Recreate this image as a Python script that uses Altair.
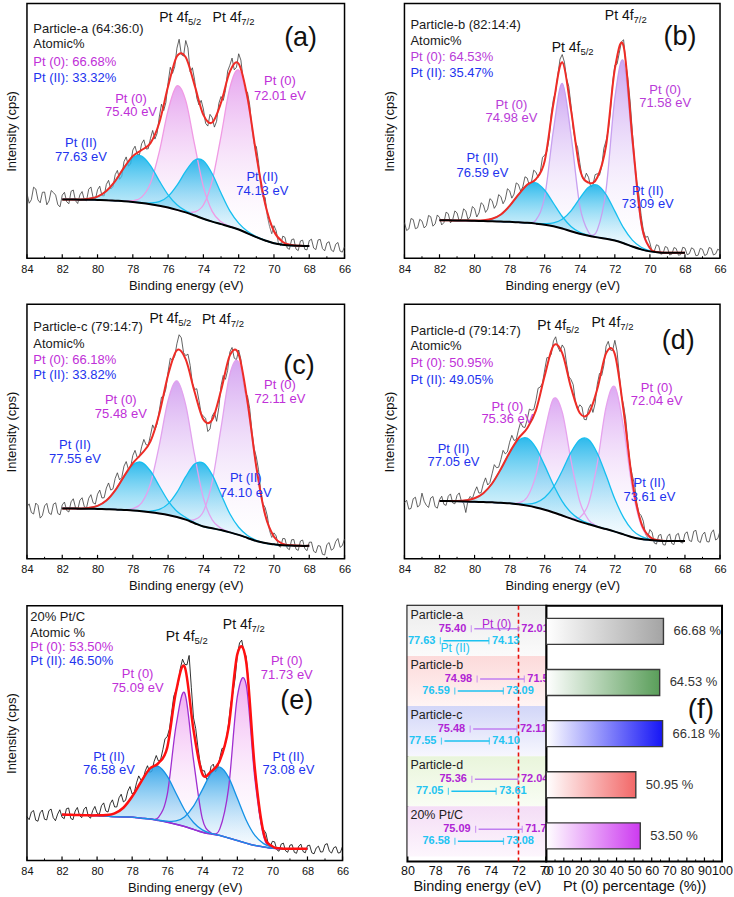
import altair as alt
import numpy as np
import pandas as pd

FONT = "Liberation Sans"

# ---------------- energy grids (eV) ----------------
E_raw = np.round(np.linspace(84.0, 66.0, 145), 3)  # raw spectrum, 0.125 eV step
E_fit = np.round(np.linspace(82.0, 68.0, 29), 2)   # fitted curves, 0.5 eV step
xticks_major = [84, 82, 80, 78, 76, 74, 72, 70, 68, 66]
xticks_minor = [83, 81, 79, 77, 75, 73, 71, 69, 67]

# raw counts are stored as two read-off lists: on the 0.25 eV points and in between them

# ---------------- panel (a) ----------------
raw_a = [25.5, 23.0, 27.2, 21.8, 26.0, 22.5, 25.8, 21.0,
         24.8, 22.2, 26.3, 22.6, 24.9, 23.0, 27.1, 23.8,
         26.9, 24.6, 29.0, 27.2, 32.8, 31.0, 37.9, 36.2,
         42.5, 40.8, 45.0, 42.9, 47.0, 46.8, 55.5, 58.0,
         69.0, 72.6, 82.5, 80.0, 85.5, 73.2, 70.1, 60.2,
         58.6, 51.9, 55.2, 53.8, 63.5, 65.9, 75.8, 74.0,
         80.3, 70.4, 65.2, 50.8, 43.9, 28.0, 23.9, 12.5,
         12.8, 6.0, 8.7, 4.0, 7.3, 3.6, 6.8, 3.5,
         6.9, 4.0, 7.2, 3.8, 6.0, 3.2, 5.5, 2.8, 4.5]
rawm_a = [21.6, 27.9, 22.9, 25.9, 21.0, 26.6, 24.8, 20.2,
          25.9, 21.4, 26.8, 21.5, 26.2, 22.6, 28.0, 23.0,
          28.3, 24.5, 30.6, 28.1, 34.5, 32.2, 39.8, 37.0,
          44.0, 40.6, 46.5, 43.0, 50.2, 49.0, 60.5, 61.2,
          75.0, 75.3, 86.0, 79.4, 82.6, 74.8, 63.0, 62.0,
          53.0, 56.5, 51.5, 60.8, 62.0, 73.5, 78.6, 75.0,
          77.8, 65.4, 60.2, 45.0, 37.8, 24.0, 16.4, 9.6,
          10.8, 5.0, 8.2, 3.5, 7.6, 3.0, 7.1, 3.3,
          7.5, 3.4, 7.4, 2.9, 6.5, 2.6, 6.2, 2.4]
bg_a = [23.1, 23.1, 23.0, 23.0, 22.9, 22.8, 22.6, 22.4, 22.1, 21.7, 21.2, 20.6, 19.9, 19.0, 18.0,
        16.8, 15.5, 14.4, 13.4, 12.4, 11.3, 9.8, 8.3, 7.0, 5.9, 5.3, 5.0, 4.9, 4.8]
pt0_a1 = [0] * 7 + [0.1, 0.5, 2.3, 8.3, 21.2, 38.2, 48.7, 43.9, 27.9, 12.6, 4.0, 0.9, 0.2] + [0] * 9
pt0_a2 = [0] * 14 + [0.2, 1.4, 5.4, 16.1, 34.6, 54.5, 62.6, 52.5, 32.1, 14.4, 4.7, 1.1, 0.2] + [0] * 2
pt2_a1 = [0, 0, 0.1, 0.4, 1.3, 3.6, 7.7, 13.1, 17.5, 18.4, 15.2, 9.8, 5.0, 2.0, 0.6, 0.2] + [0] * 13
pt2_a2 = [0] * 9 + [0.1, 0.5, 1.6, 4.4, 9.6, 16.2, 21.7, 22.8, 18.8, 12.2, 6.2, 2.5, 0.8, 0.2] + [0] * 6

# ---------------- panel (b) ----------------
raw_b = [14.0, 11.5, 15.2, 12.0, 14.6, 12.8, 16.3, 13.5,
         16.0, 14.0, 17.5, 15.1, 17.8, 15.6, 18.6, 16.4,
         19.5, 17.8, 21.0, 19.3, 22.6, 21.0, 24.2, 23.0,
         26.5, 25.2, 29.0, 28.0, 31.5, 30.2, 33.8, 34.0,
         40.5, 47.0, 62.5, 72.0, 80.0, 70.5, 60.0, 45.8,
         37.5, 30.6, 31.8, 28.6, 33.2, 36.0, 46.1, 58.0,
         75.8, 80.5, 85.8, 70.2, 49.5, 30.0, 16.8, 8.2,
         6.0, 2.8, 4.9, 1.9, 4.2, 1.6, 3.8, 1.4,
         4.0, 1.8, 3.6, 1.2, 3.5, 1.5, 3.9, 1.7, 2.8]
rawm_b = [10.9, 15.6, 11.6, 15.3, 11.9, 16.8, 12.6, 17.0,
          13.1, 18.1, 13.9, 18.6, 14.6, 19.4, 15.2, 20.3,
          16.2, 21.8, 18.0, 23.4, 19.6, 25.0, 21.4, 27.3,
          23.6, 29.6, 26.4, 32.0, 28.6, 34.6, 31.8, 39.6,
          42.0, 56.8, 65.5, 78.2, 77.0, 67.4, 51.0, 43.6,
          32.0, 33.4, 28.0, 32.8, 32.6, 43.2, 50.3, 69.0,
          76.2, 85.0, 76.6, 61.4, 38.2, 24.8, 11.0, 8.6,
          2.6, 5.3, 1.6, 4.6, 1.3, 4.2, 1.2, 4.3,
          1.4, 4.1, 1.0, 3.9, 1.1, 4.2, 1.3, 3.6]
bg_b = [14.9, 14.9, 14.8, 14.8, 14.7, 14.6, 14.5, 14.4, 14.3, 14.1, 13.9, 13.6, 13.2, 12.6, 11.7,
        10.6, 9.6, 8.8, 8.2, 7.7, 7.0, 5.9, 4.6, 3.5, 2.7, 2.3, 2.2, 2.2, 2.2]
pt0_b1 = [0] * 10 + [0.1, 1.4, 11.1, 37.8, 57.0, 37.8, 11.1, 1.4, 0.1] + [0] * 10
pt0_b2 = [0] * 17 + [0.2, 2.9, 19.2, 55.8, 71.4, 40.2, 10.0, 1.1, 0.1] + [0] * 3
pt2_b1 = [0, 0, 0, 0, 0.1, 0.3, 1.0, 2.8, 6.3, 10.9, 14.9, 16.0, 13.5, 9.0, 4.7, 1.9, 0.6, 0.2] + [0] * 11
pt2_b2 = [0] * 11 + [0.1, 0.4, 1.3, 3.6, 8.0, 13.9, 19.1, 20.5, 17.3, 11.5, 6.0, 2.5, 0.8, 0.2] + [0] * 4

# ---------------- panel (c) ----------------
raw_c = [20.5, 18.2, 21.9, 16.0, 20.8, 18.0, 21.5, 17.8,
         21.2, 19.0, 22.4, 20.2, 23.0, 20.5, 23.8, 22.0,
         25.4, 23.9, 27.8, 27.0, 31.6, 31.0, 36.4, 35.2,
         40.6, 39.8, 44.0, 44.8, 48.5, 50.6, 58.2, 63.8,
         73.5, 78.0, 84.5, 86.8, 79.8, 76.0, 66.5, 62.2,
         56.0, 50.0, 56.1, 54.0, 68.0, 70.5, 81.2, 78.8,
         82.0, 70.2, 64.0, 50.1, 40.0, 26.5, 20.2, 11.0,
         10.2, 5.1, 8.0, 4.2, 7.5, 3.8, 7.0, 4.0,
         6.5, 3.0, 5.2, 1.8, 5.6, 3.4, 6.8, 4.5, 7.8]
rawm_c = [21.6, 17.6, 21.0, 17.0, 21.8, 17.4, 22.0, 17.3,
          22.3, 18.4, 23.6, 19.2, 24.0, 20.0, 25.2, 21.5,
          27.0, 24.0, 29.8, 27.5, 33.8, 32.0, 38.2, 36.0,
          42.6, 40.0, 46.9, 44.6, 52.6, 53.0, 63.5, 66.8,
          78.8, 79.6, 88.0, 81.0, 80.4, 69.0, 66.8, 57.0,
          55.2, 51.0, 57.6, 59.4, 72.0, 74.0, 83.0, 78.2,
          78.3, 65.0, 59.0, 43.4, 35.0, 21.6, 16.8, 8.4,
          9.0, 4.6, 7.9, 3.6, 7.6, 3.3, 7.4, 3.2,
          6.6, 2.4, 5.0, 1.5, 6.4, 4.0, 8.0, 5.2]
bg_c = [19.8, 19.8, 19.7, 19.7, 19.6, 19.5, 19.4, 19.2, 19.0, 18.7, 18.3, 17.8, 17.2, 16.4, 15.4,
        14.0, 12.7, 12.0, 11.3, 10.4, 9.4, 8.2, 7.0, 6.2, 5.7, 5.3, 5.2, 5.1, 5.1]
pt0_c1 = [0] * 7 + [0.1, 0.7, 3.3, 11.2, 26.8, 45.0, 53.5, 45.0, 26.8, 11.2, 3.3, 0.7, 0.1] + [0] * 9
pt0_c2 = [0] * 14 + [0.2, 1.4, 5.9, 18.3, 40.1, 62.1, 67.9, 52.5, 28.8, 11.1, 3.0, 0.6, 0.1] + [0] * 2
pt2_c1 = [0, 0, 0.1, 0.3, 1.2, 3.4, 7.5, 13.1, 17.9, 19.2, 16.2, 10.8, 5.6, 2.3, 0.8, 0.2] + [0] * 13
pt2_c2 = [0] * 9 + [0.1, 0.4, 1.6, 4.4, 9.7, 16.9, 23.2, 24.9, 21.0, 14.0, 7.3, 3.0, 1.0, 0.3] + [0] * 6

# ---------------- panel (d) ----------------
raw_d = [22.0, 19.5, 23.6, 20.3, 25.8, 21.0, 23.9, 20.5,
         23.2, 21.4, 24.6, 22.0, 24.9, 22.6, 18.2, 24.5,
         26.3, 25.8, 29.5, 29.0, 33.4, 35.8, 39.0, 41.2,
         45.8, 46.5, 50.5, 51.8, 54.6, 58.4, 62.2, 67.5,
         74.2, 79.0, 85.6, 83.2, 84.0, 76.5, 70.4, 61.8,
         60.5, 54.8, 58.9, 57.5, 68.6, 72.0, 83.5, 82.0,
         85.8, 72.5, 60.2, 45.3, 32.6, 22.0, 17.0, 9.6,
         11.5, 6.2, 9.2, 5.6, 8.8, 6.0, 9.4, 6.5,
         9.9, 7.2, 10.8, 7.0, 9.5, 6.8, 10.2, 7.4, 10.9]
rawm_d = [23.0, 19.8, 24.2, 21.2, 22.6, 20.2, 24.5, 19.9,
          24.6, 21.0, 25.5, 21.6, 25.9, 22.0, 23.0, 23.6,
          28.3, 26.0, 31.8, 30.0, 37.0, 36.0, 42.6, 42.0,
          48.5, 46.8, 53.6, 51.6, 58.8, 58.6, 67.0, 69.0,
          79.0, 80.4, 87.2, 81.4, 82.6, 71.6, 68.4, 58.8,
          59.6, 54.6, 60.6, 61.0, 72.8, 76.0, 85.4, 81.8,
          81.6, 64.2, 54.6, 37.0, 29.2, 18.0, 14.8, 8.4,
          10.4, 5.8, 9.6, 5.4, 9.8, 5.6, 10.0, 6.2,
          10.6, 6.8, 11.2, 6.4, 10.5, 6.6, 11.4, 8.0]
bg_d = [22.7, 22.7, 22.6, 22.5, 22.4, 22.3, 22.2, 22.0, 21.8, 21.4, 20.9, 20.2, 19.3, 18.2, 17.0,
        15.8, 14.6, 13.6, 12.6, 11.7, 10.7, 9.6, 8.5, 7.8, 7.4, 7.1, 7.0, 7.0, 7.0]
pt0_d1 = [0] * 9 + [0.6, 3.3, 12.8, 30.5, 44.7, 40.6, 22.9, 8.0, 1.7, 0.2] + [0] * 10
pt0_d2 = [0] * 15 + [0.2, 1.6, 8.1, 24.9, 47.9, 56.9, 41.9, 19.0, 5.4, 0.9, 0.1] + [0] * 3
pt2_d1 = [0, 0, 0.1, 0.5, 1.4, 3.5, 7.4, 13.3, 20.0, 25.1, 26.5, 23.4, 17.3, 10.8, 5.6, 2.4, 0.9, 0.3, 0.1] + [0] * 10
pt2_d2 = [0] * 9 + [0.2, 0.6, 1.9, 4.8, 10.0, 17.6, 26.0, 32.2, 33.3, 28.9, 21.1, 12.8, 6.6, 2.8, 1.0, 0.3, 0.1] + [0] * 3

# ---------------- panel (e) ----------------
raw_e = [17.2, 19.0, 15.8, 18.7, 16.2, 19.5, 16.8, 18.2,
         17.0, 20.3, 16.5, 19.4, 17.6, 20.1, 17.3, 19.6,
         18.6, 21.5, 19.4, 22.3, 21.0, 24.6, 23.0, 27.2,
         26.1, 30.5, 31.6, 35.2, 34.6, 38.8, 39.0, 43.5,
         48.6, 58.0, 66.8, 75.5, 77.0, 80.5, 56.0, 44.5,
         35.2, 31.8, 36.9, 34.8, 40.2, 44.0, 53.8, 66.0,
         80.6, 86.5, 80.2, 58.0, 35.5, 18.8, 12.0, 6.9,
         7.5, 4.2, 6.4, 3.8, 6.0, 3.2, 5.6, 3.5,
         5.8, 3.0, 4.9, 3.3, 6.2, 3.6, 5.0, 2.9, 5.5]
rawm_e = [16.0, 19.6, 15.4, 19.8, 15.9, 20.2, 15.6, 19.9,
          16.4, 20.6, 16.0, 20.8, 16.8, 21.0, 16.6, 21.2,
          18.0, 22.6, 19.0, 23.8, 21.0, 26.0, 23.6, 29.0,
          26.8, 33.2, 31.8, 37.2, 35.0, 41.2, 39.6, 47.8,
          51.6, 64.5, 69.4, 79.0, 76.8, 68.0, 51.8, 38.4,
          35.2, 32.6, 37.8, 36.2, 44.0, 47.4, 61.5, 71.6,
          85.4, 82.0, 70.8, 45.0, 28.6, 14.0, 10.8, 5.4,
          7.3, 3.6, 6.8, 3.2, 6.2, 2.8, 6.4, 3.0,
          6.0, 2.6, 5.6, 3.4, 6.6, 2.9, 5.4, 3.1]
bg_e = [18.0, 17.9, 17.8, 17.7, 17.6, 17.4, 17.2, 17.1, 17.0, 16.6, 16.3, 15.7, 15.0, 14.2, 13.3,
        12.2, 11.1, 10.4, 9.8, 8.8, 7.8, 6.8, 5.9, 5.3, 4.8, 4.6, 4.6, 4.6, 4.6]
pt0_e1 = [0] * 10 + [0.1, 1.2, 10.8, 38.5, 52.4, 27.2, 5.4, 0.4] + [0] * 11
pt0_e2 = [0] * 17 + [0.1, 2.6, 19.6, 56.6, 62.3, 26.2, 4.2, 0.3] + [0] * 4
pt2_e1 = [0, 0, 0, 0, 0.1, 0.4, 1.3, 3.6, 8.1, 14.2, 19.6, 21.2, 18.1, 12.2, 6.4, 2.7, 0.9, 0.2, 0] + [0] * 10
pt2_e2 = [0] * 11 + [0.1, 0.4, 1.3, 3.9, 9.1, 16.6, 23.8, 26.8, 23.8, 16.6, 9.1, 3.9, 1.3, 0.4, 0.1] + [0] * 3

# ---------------- text annotations of the spectra ----------------
peak_kind = [0, 0, 0, 0, 2, 2, 2, 2]
hdr_a = ["Particle-a (64:36:0)", "Atomic%", "Pt (0): 66.68%", "Pt (II): 33.32%"]
hdr_b = ["Particle-b (82:14:4)", "Atomic%", "Pt (0): 64.53%", "Pt (II): 35.47%"]
hdr_c = ["Particle-c (79:14:7)", "Atomic%", "Pt (0): 66.18%", "Pt (II): 33.82%"]
hdr_d = ["Particle-d (79:14:7)", "Atomic%", "Pt (0): 50.95%", "Pt (II): 49.05%"]
hdr_e = ["20% Pt/C", "Atomic %", "Pt (0): 53.50%", "Pt (II): 46.50%"]

lab_a = ["Pt (0)", "75.40 eV", "Pt (0)", "72.01 eV", "Pt (II)", "77.63 eV", "Pt (II)", "74.13 eV"]
lab_b = ["Pt (0)", "74.98 eV", "Pt (0)", "71.58 eV", "Pt (II)", "76.59 eV", "Pt (II)", "73.09 eV"]
lab_c = ["Pt (0)", "75.48 eV", "Pt (0)", "72.11 eV", "Pt (II)", "77.55 eV", "Pt (II)", "74.10 eV"]
lab_d = ["Pt (0)", "75.36 eV", "Pt (0)", "72.04 eV", "Pt (II)", "77.05 eV", "Pt (II)", "73.61 eV"]
lab_e = ["Pt (0)", "75.09 eV", "Pt (0)", "71.73 eV", "Pt (II)", "76.58 eV", "Pt (II)", "73.08 eV"]

# annotation anchor positions in data units (eV, intensity %)
pos_a = dict(hE=83.64, hI=[90.2, 84.0, 77.2, 70.9],
             lE=[78.1, 78.1, 69.66, 69.66, 80.94, 80.94, 70.66, 70.66],
             lI=[62.6, 57.4, 69.6, 63.9, 45.2, 39.9, 31.9, 26.3],
             oE=[74.87, 71.85], oI=[94.4, 94.4], let=("(a)", 68.49, 86.3))
pos_b = dict(hE=83.66, hI=[91.5, 85.3, 79.1, 72.9],
             lE=[77.9, 77.9, 69.13, 69.13, 79.55, 79.55, 70.12, 70.12],
             lI=[60.2, 55.0, 66.1, 60.9, 39.4, 33.5, 26.6, 21.4],
             oE=[73.96, 70.93], oI=[82.4, 95.2], let=("(b)", 68.28, 87.0))
pos_c = dict(hE=83.64, hI=[90.9, 84.4, 78.2, 72.2],
             lE=[78.68, 78.68, 69.66, 69.66, 81.28, 81.28, 71.6, 71.6],
             lI=[62.2, 57.0, 68.1, 62.8, 44.6, 39.4, 31.6, 25.7],
             oE=[75.43, 72.45], oI=[94.1, 93.9], let=("(c)", 68.58, 75.9))
pos_d = dict(hE=83.66, hI=[89.6, 83.4, 76.9, 70.4],
             lE=[78.13, 78.13, 69.61, 69.61, 81.2, 81.2, 70.03, 70.03],
             lI=[59.8, 55.0, 67.0, 61.8, 43.3, 38.1, 29.6, 24.4],
             oE=[74.78, 71.69], oI=[91.3, 92.8], let=("(d)", 68.38, 85.7))
pos_e = dict(hE=83.81, hI=[95.4, 89.5, 83.7, 78.2],
             lE=[77.69, 77.69, 69.18, 69.18, 79.32, 79.32, 69.09, 69.09],
             lI=[73.2, 67.7, 78.4, 72.9, 40.8, 35.6, 40.8, 35.6],
             oE=[74.44, 71.19], oI=[87.6, 92.5], let=("(e)", 68.61, 62.7))
orb_main = ["Pt 4f", "Pt 4f"]
orb_sub = ["5/2", "7/2"]

# ---------------- panel (f) ----------------
names = ["Particle-a", "Particle-b", "Particle-c", "Particle-d", "20% Pt/C"]
pt0_hi = [75.40, 74.98, 75.48, 75.36, 75.09]
pt0_lo = [72.01, 71.58, 72.11, 72.04, 71.73]
pt2_hi = [77.63, 76.59, 77.55, 77.05, 76.58]
pt2_lo = [74.13, 73.09, 74.10, 73.61, 73.08]
pt0_pct = [66.68, 64.53, 66.18, 50.95, 53.50]
ref_line_eV = [72.0]
f_ticks_major = list(range(0, 101, 10))
f_ticks_minor = list(range(5, 100, 10))


def vgrad(top, bottom):
    return alt.LinearGradient(gradient="linear",
                              stops=[alt.GradientStop(color=top, offset=0),
                                     alt.GradientStop(color=bottom, offset=1)],
                              x1=0, x2=0, y1=0, y2=1)


def hgrad(left, right):
    return alt.LinearGradient(gradient="linear",
                              stops=[alt.GradientStop(color=left, offset=0),
                                     alt.GradientStop(color=right, offset=1)],
                              x1=0, x2=1, y1=0, y2=0)


def merge_raw(on, mid):
    out = []
    for i in range(len(mid)):
        out += [on[i], mid[i]]
    out.append(on[-1])
    return out


def spectrum(raw, rawm, bg, pt0s, pt2s, hdr, labs, pos, sty, W, H):
    xs = alt.Scale(domain=[66, 84], reverse=True, nice=False, zero=False)
    ys = alt.Scale(domain=[0, 100], nice=False, zero=False)
    xax = alt.Axis(values=xticks_major, format="d", ticks=False, domain=False, grid=False,
                   labelFlush=False, labelFontSize=11, labelPadding=5,
                   title="Binding energy (eV)", titleFontSize=13, titlePadding=5)
    yax = alt.Axis(labels=False, ticks=False, domain=False, grid=False,
                   title="Intensity (cps)", titleFontSize=13, titlePadding=8)

    def X(f):
        return alt.X(f"{f}:Q", scale=xs, axis=xax)

    def Y(f):
        return alt.Y(f"{f}:Q", scale=ys, axis=yax)

    rawdf = pd.DataFrame({"E": E_raw, "I": merge_raw(raw, rawm)})
    fit = pd.DataFrame({"E": E_fit, "bg": np.array(bg, float)})
    env = np.array(bg, float)
    for k, h in enumerate(pt0s):
        fit[f"p0_{k}"] = fit["bg"] + np.array(h, float)
        env = env + np.array(h, float)
    for k, h in enumerate(pt2s):
        fit[f"p2_{k}"] = fit["bg"] + np.array(h, float)
        env = env + np.array(h, float)
    fit["env"] = env
    base = alt.Chart(fit)

    L = [alt.Chart(rawdf).mark_line(color=sty["raw"], strokeWidth=0.8).encode(x=X("E"), y=Y("I"))]
    for k in range(len(pt0s)):
        L.append(base.mark_area(fill=vgrad(*sty["p0fill"]), interpolate="cardinal")
                 .encode(x=X("E"), y=Y(f"p0_{k}"), y2=alt.Y2("bg")))
    for k in range(len(pt2s)):
        L.append(base.mark_area(fill=vgrad(*sty["p2fill"]), interpolate="cardinal")
                 .encode(x=X("E"), y=Y(f"p2_{k}"), y2=alt.Y2("bg")))
    bgline = base.mark_line(color=sty["bg"], strokeWidth=sty["bgw"], interpolate="cardinal").encode(
        x=X("E"), y=Y("bg"))
    if sty["bg_under"]:
        L.append(bgline)
    for k in range(len(pt0s)):
        L.append(base.mark_line(color=sty["p0line"], strokeWidth=1.3, interpolate="cardinal")
                 .encode(x=X("E"), y=Y(f"p0_{k}")))
    for k in range(len(pt2s)):
        L.append(base.mark_line(color=sty["p2line"], strokeWidth=1.3, interpolate="cardinal")
                 .encode(x=X("E"), y=Y(f"p2_{k}")))
    L.append(base.mark_line(color=sty["env"], strokeWidth=sty["envw"], interpolate="cardinal")
             .encode(x=X("E"), y=Y("env")))
    if not sty["bg_under"]:
        L.append(bgline)

    # inward ticks on the bottom axis
    L.append(alt.Chart(pd.DataFrame({"E": xticks_major})).mark_rule(color="black", strokeWidth=1.2)
             .encode(x=X("E"), y=alt.value(H), y2=alt.value(H - 4)))
    L.append(alt.Chart(pd.DataFrame({"E": xticks_minor})).mark_rule(color="black", strokeWidth=1.0)
             .encode(x=X("E"), y=alt.value(H), y2=alt.value(H - 2)))

    hdf = pd.DataFrame({"E": [pos["hE"]] * 4, "I": pos["hI"], "label": hdr,
                        "c": ["#1a1a1a", "#1a1a1a", sty["t0"], sty["t2"]]})
    L.append(alt.Chart(hdf).mark_text(align="left", baseline="middle", fontSize=13)
             .encode(x=X("E"), y=Y("I"), text="label:N", color=alt.Color("c:N", scale=None)))
    ldf = pd.DataFrame({"E": pos["lE"], "I": pos["lI"], "label": labs,
                        "c": [sty["t0"] if k == 0 else sty["t2"] for k in peak_kind]})
    L.append(alt.Chart(ldf).mark_text(align="center", baseline="middle", fontSize=13)
             .encode(x=X("E"), y=Y("I"), text="label:N", color=alt.Color("c:N", scale=None)))
    odf = pd.DataFrame({"E": pos["oE"], "I": pos["oI"], "m": orb_main, "s": orb_sub})
    L.append(alt.Chart(odf).mark_text(align="right", baseline="middle", fontSize=14, color="#111")
             .encode(x=X("E"), y=Y("I"), text="m:N"))
    L.append(alt.Chart(odf).mark_text(align="left", baseline="middle", fontSize=9.5, dy=4, color="#111")
             .encode(x=X("E"), y=Y("I"), text="s:N"))
    let = pos["let"]
    L.append(alt.Chart(pd.DataFrame({"E": [let[1]], "I": [let[2]], "t": [let[0]]}))
             .mark_text(align="center", baseline="middle", fontSize=27, color="#111")
             .encode(x=X("E"), y=Y("I"), text="t:N"))
    return alt.layer(*L).properties(width=W, height=H)


sty_common = dict(raw="#3c3c3c", p2fill=("rgba(22,178,234,0.9)", "rgba(225,245,253,0.25)"),
                  p2line="#16bff0", env="#ee2c26", envw=2.0, bg="#000000", bgw=2.0,
                  bg_under=False, t0="#c030d8", t2="#2233ee")
sty_a = dict(sty_common, p0fill=("rgba(226,150,236,0.85)", "rgba(255,255,255,0.1)"), p0line="#f09ae4")
sty_b = dict(sty_common, p0fill=("rgba(196,150,240,0.85)", "rgba(255,255,255,0.1)"), p0line="#c8a0f0",
             t0="#b83cd8")
sty_c = dict(sty_common, p0fill=("rgba(206,150,238,0.85)", "rgba(255,255,255,0.1)"), p0line="#e2a2ee")
sty_d = dict(sty_common, p0fill=("rgba(214,154,240,0.85)", "rgba(255,255,255,0.1)"), p0line="#e6a2ee")
sty_e = dict(sty_common, raw="#000000", p0fill=("rgba(238,160,240,0.85)", "rgba(255,255,255,0.1)"),
             p0line="#a02ed0", p2fill=("rgba(38,158,232,0.9)", "rgba(225,242,252,0.25)"),
             p2line="#1592e6", env="#ff1010", envw=2.5, bg="#6035d8", bgw=1.5, bg_under=True)

pa = spectrum(raw_a, rawm_a, bg_a, [pt0_a1, pt0_a2], [pt2_a1, pt2_a2], hdr_a, lab_a, pos_a, sty_a, 318, 255)
pb = spectrum(raw_b, rawm_b, bg_b, [pt0_b1, pt0_b2], [pt2_b1, pt2_b2], hdr_b, lab_b, pos_b, sty_b, 316, 255)
pc = spectrum(raw_c, rawm_c, bg_c, [pt0_c1, pt0_c2], [pt2_c1, pt2_c2], hdr_c, lab_c, pos_c, sty_c, 318, 255)
pd_ = spectrum(raw_d, rawm_d, bg_d, [pt0_d1, pt0_d2], [pt2_d1, pt2_d2], hdr_d, lab_d, pos_d, sty_d, 316, 255)
pe = spectrum(raw_e, rawm_e, bg_e, [pt0_e1, pt0_e2], [pt2_e1, pt2_e2], hdr_e, lab_e, pos_e, sty_e, 316, 255)

# ---------------- panel (f): left part ----------------
WFL, WFR, HF = 139, 176, 256
dff = pd.DataFrame({"name": names, "pt0_hi": pt0_hi, "pt0_lo": pt0_lo,
                    "pt2_hi": pt2_hi, "pt2_lo": pt2_lo, "pct": pt0_pct})
dff["pct_label"] = [f"{v:.2f} %" for v in pt0_pct]

xsf = alt.Scale(domain=[70, 80], reverse=True, nice=False, zero=False)
xaxf = alt.Axis(values=[80, 78, 76, 74, 72, 70], format="d", ticks=False, domain=False, grid=False,
                labelFlush=False, labelFontSize=12.5, labelPadding=3,
                title="Binding energy (eV)", titleFontSize=14.5, titlePadding=3)
ysf = alt.Scale(domain=names, paddingInner=0, paddingOuter=0.05, align=0)
YF = alt.Y("name:N", scale=ysf, axis=None, sort=names)


def XF(f):
    return alt.X(f"{f}:Q", scale=xsf, axis=xaxf)


band_cols = [("#ececec", "#fbfbfb"), ("#fcdada", "#fff4f4"), ("#d2d6f8", "#f7f7fe"),
             ("#e9f5db", "#f9fdf4"), ("#f4ddf6", "#fdf6fd")]
C0L, C0T, C2L, C2T = "#c07ef0", "#b024d4", "#1cc2f0", "#22c4f2"
FL = []
for n, (c1, c2) in zip(names, band_cols):
    FL.append(alt.Chart(dff).transform_filter(alt.datum.name == n)
              .mark_rect(fill=vgrad(c1, c2)).encode(y=YF, x=alt.value(0), x2=alt.value(WFL)))
FL.append(alt.Chart(pd.DataFrame({"E": ref_line_eV})).mark_rule(color="#e8100c", strokeWidth=1.6,
                                                                strokeDash=[4, 3]).encode(x=XF("E")))
for hi, lo, off, cl, ct in [("pt0_hi", "pt0_lo", -2, C0L, C0T), ("pt2_hi", "pt2_lo", 10, C2L, C2T)]:
    FL.append(alt.Chart(dff).mark_rule(color=cl, strokeWidth=1.5, yOffset=off, xOffset=3)
              .encode(x=XF(hi), x2=alt.X2(lo), y=YF))
    for f in (hi, lo):
        FL.append(alt.Chart(dff).mark_tick(color=cl, orient="vertical", size=7, thickness=1.2, yOffset=off)
                  .encode(x=XF(f), y=YF))
    FL.append(alt.Chart(dff).mark_text(align="right", baseline="middle", dx=-5, yOffset=off,
                                       fontWeight="bold", fontSize=11, color=ct)
              .encode(x=XF(hi), y=YF, text=alt.Text(f"{hi}:Q", format=".2f")))
    FL.append(alt.Chart(dff).mark_text(align="left", baseline="middle", dx=3, yOffset=off,
                                       fontWeight="bold", fontSize=11, color=ct)
              .encode(x=XF(lo), y=YF, text=alt.Text(f"{lo}:Q", format=".2f")))
FL.append(alt.Chart(dff).mark_text(align="left", baseline="middle", fontSize=12.5, color="#222",
                                   yOffset=-16).encode(x=alt.value(3), y=YF, text="name:N"))
ann = pd.DataFrame({"name": ["Particle-a"], "E0": [73.57], "E2": [76.56]})
FL.append(alt.Chart(ann).mark_text(align="center", baseline="middle", fontSize=12, color=C0T, yOffset=-7)
          .encode(x=XF("E0"), y=YF, text=alt.value("Pt (0)")))
FL.append(alt.Chart(ann).mark_text(align="center", baseline="middle", fontSize=12, color=C2T, yOffset=17)
          .encode(x=XF("E2"), y=YF, text=alt.value("Pt (II)")))
f_left = alt.layer(*FL).properties(width=WFL, height=HF,
                                   view=alt.ViewBackground(stroke="black", strokeWidth=2))

# ---------------- panel (f): right part ----------------
xsr = alt.Scale(domain=[0, 100], nice=False, zero=False)
xaxr = alt.Axis(values=f_ticks_major, ticks=False, domain=False, grid=False, labelFlush=False,
                labelFontSize=12.5, labelPadding=3, title="Pt (0) percentage (%))",
                titleFontSize=14.5, titlePadding=3)
ysr = alt.Scale(domain=names, paddingInner=0, paddingOuter=0)
YR = alt.Y("name:N", scale=ysr, axis=None, sort=names)


def XR(f):
    return alt.X(f"{f}:Q", scale=xsr, axis=xaxr)


bar_cols = ["#a4a4a4", "#5a9e5a", "#1616f6", "#f26868", "#cd3af0"]
FR = []
for n, col in zip(names, bar_cols):
    FR.append(alt.Chart(dff).transform_filter(alt.datum.name == n)
              .mark_bar(fill=hgrad("#ffffff", col), stroke="#3a3a3a", strokeWidth=1.4, height=26)
              .encode(x=XR("pct"), y=YR))
FR.append(alt.Chart(dff).mark_text(align="left", baseline="middle", dx=10, fontSize=13, color="#333")
          .encode(x=XR("pct"), y=YR, text="pct_label:N"))
FR.append(alt.Chart(pd.DataFrame({"pct": f_ticks_major})).mark_rule(color="black", strokeWidth=1.2)
          .encode(x=XR("pct"), y=alt.value(HF), y2=alt.value(HF - 4)))
FR.append(alt.Chart(pd.DataFrame({"pct": f_ticks_minor})).mark_rule(color="black", strokeWidth=1.0)
          .encode(x=XR("pct"), y=alt.value(HF), y2=alt.value(HF - 2)))
FR.append(alt.Chart(pd.DataFrame({"pct": [88.0], "name": ["Particle-c"], "t": ["(f)"]}))
          .mark_text(align="center", baseline="middle", fontSize=28, color="#111", yOffset=-24)
          .encode(x=XR("pct"), y=YR, text="t:N"))
f_right = alt.layer(*FR).properties(width=WFR, height=HF,
                                    view=alt.ViewBackground(stroke="black", strokeWidth=2))

row1 = alt.hconcat(pa, pb, spacing=60, bounds="flush")
row2 = alt.hconcat(pc, pd_, spacing=60, bounds="flush")
frow = alt.hconcat(f_left, f_right, spacing=0, bounds="flush")
row3 = alt.hconcat(pe, frow, spacing=65, bounds="flush")

chart = (alt.vconcat(row1, row2, row3, spacing=10)
         .properties(padding={"left": 5, "top": 2, "right": 0, "bottom": 0})
         .configure(font=FONT)
         .configure_view(stroke="black", strokeWidth=1.5)
         .configure_axis(labelFont=FONT, titleFont=FONT, labelColor="#111", titleColor="#111",
                         titleFontWeight="normal")
         .configure_text(font=FONT))

chart.save("out.html", embed_options={"renderer": "svg", "actions": False})
